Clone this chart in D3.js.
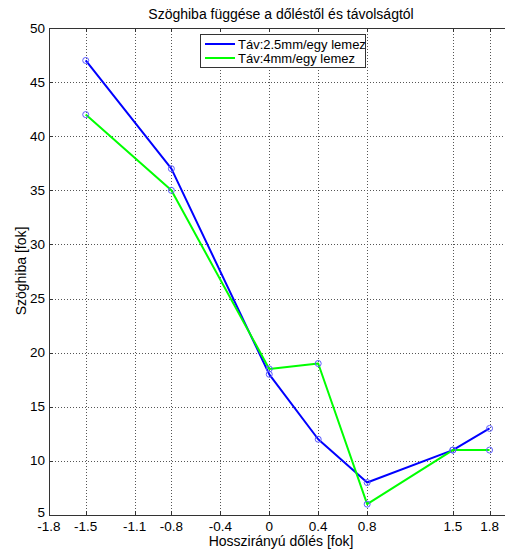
<!DOCTYPE html>
<html>
<head>
<meta charset="utf-8">
<script src="https://cdn.jsdelivr.net/npm/d3@7"></script>
<style>
  html, body { margin: 0; padding: 0; background: #fff; }
  svg { display: block; font-family: "Liberation Sans", Arial, sans-serif; }
</style>
</head>
<body>
<svg id="chart" width="505" height="551"></svg>
<script>
// Tilt values (x) and angle error series
const tilt = [-1.5, -0.8, 0, 0.4, 0.8, 1.5, 1.8];
const err25 = [47, 37, 18, 12, 8, 11, 13];
const err4 = [42, 35, 18.5, 19, 6, 11, 11];
const xTicks = [-1.8, -1.5, -1.1, -0.8, -0.4, 0, 0.4, 0.8, 1.5, 1.8];
const yTicks = [5, 10, 15, 20, 25, 30, 35, 40, 45, 50];
const seriesNames = ["Táv:2.5mm/egy lemez", "Táv:4mm/egy lemez"];
const seriesColors = ["#0000ff", "#00ff00"];

(function () {
const svg = d3.select("#chart");
const pLeft = 49, pTop = 28, pBottom = 515, pRight = 514;

const x = d3.scaleLinear().domain([-1.8, 2.0]).range([pLeft, pRight]);
const y = d3.scaleLinear().domain([5, 50]).range([pBottom, pTop]);

// Dotted grid
const grid = svg.append("g").attr("stroke", "#555").attr("stroke-width", 1)
  .attr("stroke-dasharray", "1,2").attr("fill", "none");
xTicks.slice(1).forEach(t => {
  grid.append("line").attr("x1", Math.round(x(t)) + 0.5).attr("x2", Math.round(x(t)) + 0.5)
    .attr("y1", pTop).attr("y2", pBottom);
});
yTicks.slice(1, -1).forEach(t => {
  grid.append("line").attr("y1", Math.round(y(t)) + 0.5).attr("y2", Math.round(y(t)) + 0.5)
    .attr("x1", pLeft).attr("x2", pRight);
});

// Series lines
const line = d3.line().x((d, i) => x(tilt[i])).y(d => y(d));
[err25, err4].forEach((s, k) => {
  svg.append("path").datum(s).attr("d", line).attr("fill", "none")
    .attr("stroke", seriesColors[k]).attr("stroke-width", 2).attr("stroke-linejoin", "round");
});
// Circle markers
[err4, err25].forEach(s => {
  svg.append("g").selectAll("circle").data(s).join("circle")
    .attr("cx", (d, i) => x(tilt[i])).attr("cy", d => y(d)).attr("r", 3)
    .attr("fill", "none").attr("stroke", "#5a5aff").attr("stroke-width", 1);
});

// Axes box (left, bottom, top)
const ax = svg.append("g").attr("stroke", "#333").attr("stroke-width", 1).attr("fill", "none");
ax.append("line").attr("x1", pLeft + 0.5).attr("x2", pLeft + 0.5).attr("y1", pTop).attr("y2", pBottom + 0.5);
ax.append("line").attr("x1", pLeft).attr("x2", pRight).attr("y1", pBottom + 0.5).attr("y2", pBottom + 0.5);
ax.append("line").attr("x1", pLeft).attr("x2", pRight).attr("y1", pTop + 0.5).attr("y2", pTop + 0.5);
// Inward tick marks
xTicks.forEach(t => {
  const xp = Math.round(x(t)) + 0.5;
  ax.append("line").attr("x1", xp).attr("x2", xp).attr("y1", pBottom).attr("y2", pBottom - 4);
  ax.append("line").attr("x1", xp).attr("x2", xp).attr("y1", pTop).attr("y2", pTop + 4);
});
yTicks.forEach(t => {
  const yp = Math.round(y(t)) + 0.5;
  ax.append("line").attr("x1", pLeft).attr("x2", pLeft + 4).attr("y1", yp).attr("y2", yp);
});

// Tick labels
const fs = 13.5;
svg.append("g").selectAll("text").data(xTicks).join("text")
  .attr("x", d => x(d)).attr("y", 531).attr("text-anchor", "middle")
  .attr("font-size", fs).attr("fill", "#000").text(d => String(d));
svg.append("g").selectAll("text").data(yTicks).join("text")
  .attr("x", 45).attr("y", d => Math.min(y(d) + 4.5, 516.5)).attr("text-anchor", "end")
  .attr("font-size", fs).attr("fill", "#000").text(d => d);

// Title and axis labels
svg.append("text").attr("x", 281).attr("y", 19).attr("text-anchor", "middle")
  .attr("font-size", 14).text("Szöghiba függése a dőléstől és távolságtól");
svg.append("text").attr("x", 281).attr("y", 546).attr("text-anchor", "middle")
  .attr("font-size", 14).text("Hosszirányú dőlés [fok]");
svg.append("text").attr("transform", "translate(26,271) rotate(-90)").attr("text-anchor", "middle")
  .attr("font-size", 14).text("Szöghiba [fok]");

// Legend
const lg = svg.append("g");
lg.append("rect").attr("x", 200.5).attr("y", 34.5).attr("width", 165).attr("height", 33)
  .attr("fill", "#fff").attr("stroke", "#333").attr("stroke-width", 1);
seriesNames.forEach((n, i) => {
  const ly = 44 + i * 14;
  lg.append("line").attr("x1", 205).attr("x2", 235).attr("y1", ly).attr("y2", ly)
    .attr("stroke", seriesColors[i]).attr("stroke-width", 2);
  lg.append("text").attr("x", 238).attr("y", ly + 4.5).attr("font-size", 13).text(n);
});
})();
</script>
</body>
</html>
